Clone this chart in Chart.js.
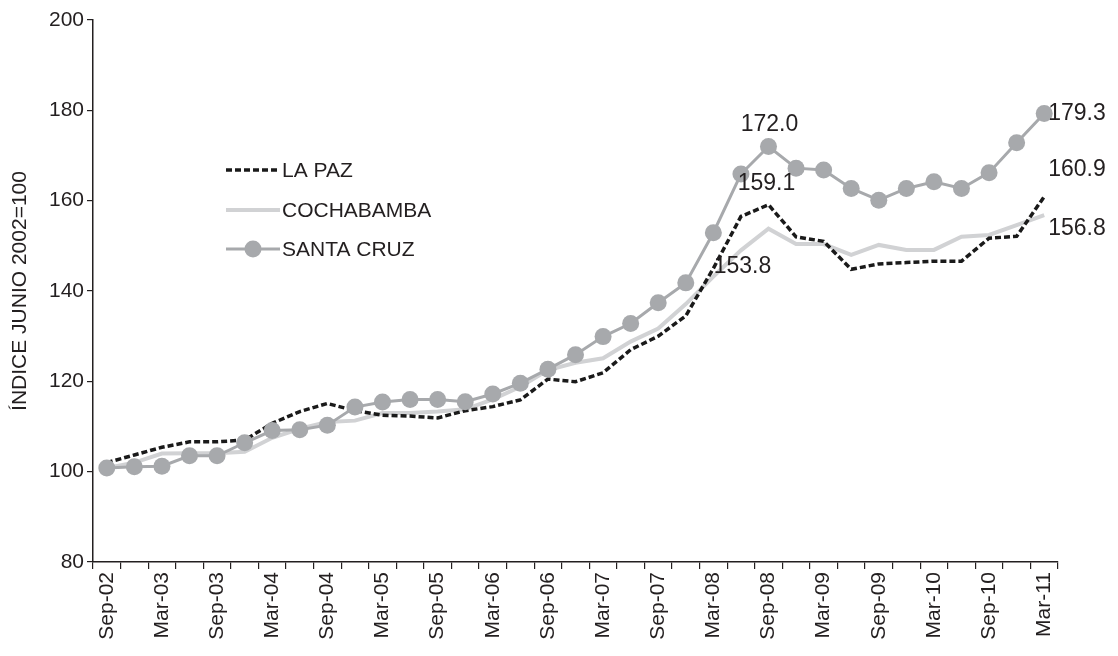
<!DOCTYPE html>
<html>
<head>
<meta charset="utf-8">
<script src="https://cdn.jsdelivr.net/npm/chart.js@4/dist/chart.umd.min.js"></script>
<style>
  html, body { margin: 0; padding: 0; background: #fff; }
</style>
</head>
<body>
<canvas id="indexChart" width="1118" height="656"></canvas>
<script>
"use strict";

// Quarterly periods, Sep-02 .. Mar-11
const periods = [
  "Sep-02", "Dec-02", "Mar-03", "Jun-03", "Sep-03", "Dec-03", "Mar-04", "Jun-04",
  "Sep-04", "Dec-04", "Mar-05", "Jun-05", "Sep-05", "Dec-05", "Mar-06", "Jun-06",
  "Sep-06", "Dec-06", "Mar-07", "Jun-07", "Sep-07", "Dec-07", "Mar-08", "Jun-08",
  "Sep-08", "Dec-08", "Mar-09", "Jun-09", "Sep-09", "Dec-09", "Mar-10", "Jun-10",
  "Sep-10", "Dec-10", "Mar-11"
];

const laPaz = [
  102.0, 103.7, 105.4, 106.6, 106.6, 107.0, 110.7, 113.3,
  115.1, 113.5, 112.5, 112.3, 111.9, 113.5, 114.4, 115.9,
  120.5, 119.9, 121.9, 127.0, 130.0, 134.5, 145.0, 156.5,
  159.1, 152.0, 151.0, 144.8, 146.0, 146.3, 146.6, 146.6,
  151.7, 152.1, 160.9
];

const cochabamba = [
  100.8, 102.0, 104.0, 104.1, 104.1, 104.4, 107.5, 109.5,
  111.0, 111.3, 113.0, 113.0, 113.3, 113.8, 116.0, 118.8,
  122.5, 124.1, 125.1, 128.8, 131.7, 137.1, 143.2, 149.0,
  153.8, 150.4, 150.4, 148.0, 150.2, 149.1, 149.1, 152.0,
  152.4, 154.6, 156.8
];

const santaCruz = [
  100.8, 101.1, 101.2, 103.5, 103.5, 106.4, 109.1, 109.3,
  110.3, 114.3, 115.4, 116.0, 116.0, 115.5, 117.2, 119.6,
  122.7, 125.9, 129.9, 132.8, 137.4, 141.8, 152.9, 165.9,
  172.0, 167.2, 166.8, 162.7, 160.1, 162.7, 164.2, 162.7,
  166.2, 172.8, 179.3
];

const yTicks = [80, 100, 120, 140, 160, 180, 200];

const textColor = "#231f20";
const fontFamily = "'Liberation Sans', Arial, sans-serif";

// value labels: [datasetIndex, pointIndex, dx, dy, align]
const valueLabels = [
  [2, 24, 1, -22, "center"],
  [0, 24, -2, -21, "center"],
  [1, 24, -26, 38, "center"],
  [2, 34, 4, 0, "left"],
  [0, 34, 4, -27, "left"],
  [1, 34, 4, 14, "left"]
];

const valueLabelPlugin = {
  id: "valueLabels",
  afterDatasetsDraw(chart) {
    const ctx = chart.ctx;
    ctx.save();
    ctx.font = "23px " + fontFamily;
    ctx.fillStyle = textColor;
    ctx.textBaseline = "middle";
    valueLabels.forEach(([ds, i, dx, dy, align]) => {
      const pt = chart.getDatasetMeta(ds).data[i];
      const v = chart.data.datasets[ds].data[i];
      ctx.textAlign = align;
      ctx.fillText(v.toFixed(1), pt.x + dx, pt.y + dy);
    });
    ctx.restore();
  }
};

// legend drawn inside the plot area
const legendPlugin = {
  id: "insideLegend",
  afterDraw(chart) {
    const ctx = chart.ctx;
    const x0 = 226, x1 = 280, rowY = [170, 210, 249];
    ctx.save();
    chart.data.datasets.forEach((ds, k) => {
      const y = rowY[k];
      ctx.beginPath();
      ctx.strokeStyle = ds.borderColor;
      ctx.lineWidth = ds.borderWidth;
      ctx.setLineDash(ds.borderDash || []);
      ctx.moveTo(x0, y);
      ctx.lineTo(x1, y);
      ctx.stroke();
      ctx.setLineDash([]);
      if (ds.pointRadius > 0) {
        ctx.beginPath();
        ctx.fillStyle = ds.pointBackgroundColor;
        ctx.arc((x0 + x1) / 2, y, ds.pointRadius, 0, Math.PI * 2);
        ctx.fill();
      }
      ctx.fillStyle = textColor;
      ctx.font = "21px " + fontFamily;
      ctx.textAlign = "left";
      ctx.textBaseline = "middle";
      ctx.fillText(ds.label, x1 + 2, y + 1);
    });
    ctx.restore();
  }
};

new Chart(document.getElementById("indexChart"), {
  type: "line",
  data: {
    labels: periods,
    datasets: [
      {
        label: "LA PAZ",
        data: laPaz,
        borderColor: "#1a1a1a",
        borderWidth: 3.5,
        borderDash: [6, 3],
        pointRadius: 0,
        tension: 0,
        order: 1
      },
      {
        label: "COCHABAMBA",
        data: cochabamba,
        borderColor: "#d1d2d4",
        borderWidth: 4,
        pointRadius: 0,
        tension: 0,
        order: 2
      },
      {
        label: "SANTA CRUZ",
        data: santaCruz,
        borderColor: "#a7a9ac",
        borderWidth: 3,
        pointRadius: 8.5,
        pointBackgroundColor: "#a7a9ac",
        pointBorderWidth: 0,
        tension: 0,
        order: 0
      }
    ]
  },
  options: {
    responsive: false,
    animation: false,
    layout: { padding: { top: 20, right: 60, left: 0, bottom: 0 } },
    plugins: {
      legend: { display: false },
      tooltip: { enabled: false }
    },
    scales: {
      x: {
        type: "category",
        offset: true,
        grid: {
          offset: true,
          drawOnChartArea: false,
          color: "#231f20",
          tickLength: 7,
          lineWidth: 1.2
        },
        border: { color: "#231f20", width: 1.5 },
        ticks: {
          autoSkip: false,
          minRotation: 90,
          maxRotation: 90,
          padding: 3,
          color: textColor,
          font: { family: fontFamily, size: 21 },
          callback: (v, i) => (i % 2 === 0 ? periods[i] : "")
        },
        afterFit: (scale) => { scale.height = 94; }
      },
      y: {
        min: 80,
        max: 200,
        afterBuildTicks: (scale) => { scale.ticks = yTicks.map(v => ({ value: v })); },
        grid: {
          drawOnChartArea: false,
          color: "#231f20",
          tickLength: 6,
          lineWidth: 1.2
        },
        border: { color: "#231f20", width: 1.5 },
        ticks: {
          color: textColor,
          padding: 3,
          font: { family: fontFamily, size: 21 }
        },
        title: {
          display: true,
          text: "ÍNDICE JUNIO 2002=100",
          color: textColor,
          font: { family: fontFamily, size: 21 },
          padding: { top: 8, bottom: 0 }
        },
        afterFit: (scale) => { scale.width = 93; }
      }
    }
  },
  plugins: [valueLabelPlugin, legendPlugin]
});
</script>
</body>
</html>
